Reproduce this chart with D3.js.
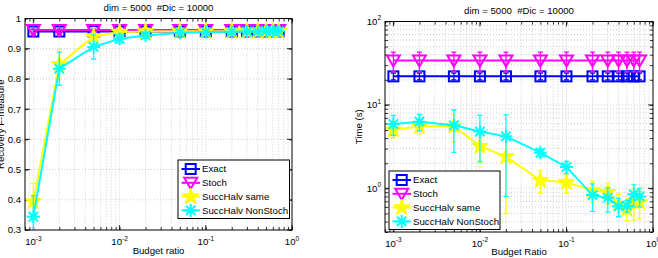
<!DOCTYPE html>
<html><head><meta charset="utf-8">
<script src="https://cdn.jsdelivr.net/npm/d3@7"></script>
<style>
html,body{margin:0;padding:0;background:#fff;}
svg{display:block;font-family:"Liberation Sans",Arial,Helvetica,sans-serif;}
text{white-space:pre;}
</style></head><body>
<svg id="c" width="658" height="258"></svg>
<script>
// ---------- data ----------
const budget = [0.001,0.002,0.005,0.01,0.02,0.05,0.1,0.2,0.3,0.4,0.5,0.6,0.7];
const seriesNames = ["Exact","Stoch","SuccHalv same","SuccHalv NonStoch"];
const seriesColors = ["#0000ff","#ff00ff","#ffff00","#00ffff"];
const seriesMarkers = ["square","triangle","star","asterisk"];

// Recovery F-measure
const fExact    = [0.957,0.957,0.957,0.957,0.957,0.957,0.957,0.957,0.957,0.957,0.957,0.957,0.957];
const fExactErr = [0.008,0.008,0.008,0.008,0.008,0.008,0.008,0.008,0.008,0.008,0.008,0.008,0.008];
const fStoch    = [0.962,0.962,0.962,0.962,0.962,0.962,0.962,0.962,0.962,0.962,0.962,0.962,0.962];
const fStochErr = [0.015,0.015,0.015,0.015,0.015,0.015,0.015,0.015,0.015,0.015,0.015,0.015,0.015];
const fSame     = [0.394,0.848,0.940,0.955,0.957,0.958,0.958,0.958,0.958,0.958,0.958,0.958,0.958];
const fSameErr  = [0.060,0.050,0.030,0.012,0.008,0.006,0.006,0.006,0.006,0.006,0.006,0.006,0.006];
const fNon      = [0.344,0.834,0.906,0.933,0.944,0.953,0.955,0.956,0.957,0.957,0.958,0.958,0.958];
const fNonErr   = [0.070,0.055,0.040,0.015,0.010,0.008,0.006,0.006,0.006,0.006,0.006,0.006,0.006];

// Time (s)
const tExact    = [22,22,22,22,22,22,22,22,22,22,22,22,22];
const tExactErr = [2,2,2,2,2,2,2,2,2,2,2,2,2];
const tStoch    = [34,34,34,34,34,34,34,34,34,34,34,34,34];
const tStochErr = [9,9,9,9,9,9,9,9,9,9,9,9,9];
const tSame     = [5.05,5.5,5.6,3.2,2.4,1.25,1.18,0.95,0.9,0.65,0.56,0.7,0.68];
const tSameErr  = [1.0,1.0,2.0,1.2,1.9,0.37,0.3,0.27,0.25,0.2,0.15,0.28,0.25];
const tNon      = [5.9,6.3,5.7,4.8,4.2,2.68,1.8,0.83,0.77,0.61,0.62,0.85,0.8];
const tNonErr   = [1.6,1.4,3.0,2.7,3.4,0.3,0.3,0.3,0.25,0.15,0.1,0.25,0.2];

const xTicks = [0.001,0.01,0.1,1];
const xTickExp = ["-3","-2","-1","0"];
const fTicks = [0.3,0.4,0.5,0.6,0.7,0.8,0.9,1];
const fTickLabels = ["0.3","0.4","0.5","0.6","0.7","0.8","0.9","1"];
const tTicks = [1,10,100];
const tTickExp = ["0","1","2"];
const titleText = "dim = 5000  #Dic = 10000";

// ---------- drawing ----------
const svg = d3.select("#c");
const FS = 9.6;

function minorLog(domain){
  const out=[];
  for(let e=-4;e<=3;e++) for(let m=1;m<=9;m++){
    const v=m*Math.pow(10,e);
    if(v>=domain[0]*0.9999 && v<=domain[1]*1.0001) out.push(v);
  }
  return out;
}

function drawMarker(g,type,cx,cy,color){
  if(type==="square"){
    g.append("rect").attr("x",cx-5).attr("y",cy-5).attr("width",10).attr("height",10)
     .attr("fill","none").attr("stroke",color).attr("stroke-width",2);
  } else if(type==="triangle"){
    g.append("path").attr("d",`M${cx-6.5},${cy-5}L${cx+6.5},${cy-5}L${cx},${cy+6}Z`)
     .attr("fill","none").attr("stroke",color).attr("stroke-width",2).attr("stroke-linejoin","miter");
  } else if(type==="star"){
    g.append("path").attr("d",d3.symbol(d3.symbolStar,75)()).attr("transform",`translate(${cx},${cy})`)
     .attr("fill",color).attr("stroke",color).attr("stroke-width",1.5).attr("stroke-linejoin","round");
  } else {
    const r=6.5, d=r*0.72;
    g.append("path").attr("d",`M${cx},${cy-r}V${cy+r}M${cx-r},${cy}H${cx+r}M${cx-d},${cy-d}L${cx+d},${cy+d}M${cx-d},${cy+d}L${cx+d},${cy-d}`)
     .attr("fill","none").attr("stroke",color).attr("stroke-width",2);
  }
}

let clipId=0;
function drawPlot(cfg){
  const {x,y,xs,ys,title,xlabel,ylabel,series,yTicks,yLabelFn,yLog,legend,titleY,ylabX} = cfg;
  const [x0,x1]=x.range(), [y0,y1]=y.range(); // y0 bottom, y1 top
  const g = svg.append("g");
  const cid="clip"+(clipId++);
  svg.append("clipPath").attr("id",cid).append("rect").attr("x",x0).attr("y",y1).attr("width",x1-x0).attr("height",y0-y1);

  // grid
  const grid=g.append("g").attr("stroke","#b8b8b8").attr("stroke-width",0.7).attr("stroke-dasharray","1,2");
  const xMinor=minorLog(x.domain());
  xMinor.forEach(v=>{ if(v>x.domain()[0] && v<x.domain()[1]) grid.append("line").attr("x1",x(v)).attr("x2",x(v)).attr("y1",y1).attr("y2",y0);});
  const yGrid = yLog? minorLog(y.domain()) : yTicks;
  yGrid.forEach(v=>{ if(v>y.domain()[0]+1e-9 && v<y.domain()[1]-1e-9) grid.append("line").attr("x1",x0).attr("x2",x1).attr("y1",y(v)).attr("y2",y(v));});

  // ticks via d3 axes (inside, all four sides)
  const axB=d3.axisBottom(x).tickValues(xMinor).tickSizeInner(-3).tickSizeOuter(0).tickFormat("");
  const axT=d3.axisTop(x).tickValues(xMinor).tickSizeInner(-3).tickSizeOuter(0).tickFormat("");
  const yTickVals = yLog? minorLog(y.domain()) : yTicks;
  const axL=d3.axisLeft(y).tickValues(yTickVals).tickSizeInner(-3).tickSizeOuter(0).tickFormat("");
  const axR=d3.axisRight(y).tickValues(yTickVals).tickSizeInner(-3).tickSizeOuter(0).tickFormat("");
  const axes=g.append("g");
  [[axB,`translate(0,${y0})`],[axT,`translate(0,${y1})`],[axL,`translate(${x0},0)`],[axR,`translate(${x1},0)`]].forEach(([a,t])=>{
    const s=axes.append("g").attr("transform",t).call(a);
    s.select(".domain").remove();
    s.selectAll("line").attr("stroke","#000").attr("stroke-width",0.8);
  });
  // major ticks longer
  const maj=axes.append("g").attr("stroke","#000").attr("stroke-width",0.8);
  xs.forEach(v=>{ if(v>=x.domain()[0]&&v<=x.domain()[1]){ maj.append("line").attr("x1",x(v)).attr("x2",x(v)).attr("y1",y0).attr("y2",y0-5); maj.append("line").attr("x1",x(v)).attr("x2",x(v)).attr("y1",y1).attr("y2",y1+5);} });
  (yLog? yTicks: yTicks).forEach(v=>{ maj.append("line").attr("x1",x0).attr("x2",x0+5).attr("y1",y(v)).attr("y2",y(v)); maj.append("line").attr("x1",x1).attr("x2",x1-5).attr("y1",y(v)).attr("y2",y(v)); });

  // x tick labels
  xs.forEach((v,i)=>{
    const t=g.append("text").attr("x",x(v)).attr("y",cfg.xTickBase).attr("text-anchor","middle").attr("font-size",FS);
    t.append("tspan").text("10");
    t.append("tspan").attr("dy",-4.5).attr("font-size",6.5).text(xTickExpArr(v,i));
  });
  // y tick labels
  yTicks.forEach((v,i)=>{
    const t=g.append("text").attr("x",x0-4).attr("y",y(v)).attr("dy","0.35em").attr("text-anchor","end").attr("font-size",FS);
    yLabelFn(t,i);
  });

  // title
  g.append("text").attr("x",(x0+x1)/2).attr("y",titleY).attr("text-anchor","middle").attr("font-size",FS).text(title);
  // axis labels
  g.append("text").attr("x",(x0+x1)/2).attr("y",cfg.xlabY).attr("text-anchor","middle").attr("font-size",FS).text(xlabel);
  g.append("text").attr("transform",`translate(${ylabX},${(y0+y1)/2}) rotate(-90)`).attr("text-anchor","middle").attr("font-size",FS).text(ylabel);

  // series
  const plotG=g.append("g");
  const line=d3.line().x(d=>x(d[0])).y(d=>y(d[1]));
  series.forEach((s,si)=>{
    const color=seriesColors[si];
    const pts=budget.map((b,i)=>[b,s.v[i]]);
    const sg=plotG.append("g");
    const cl=sg.append("g").attr("clip-path",`url(#${cid})`);
    cl.append("path").attr("d",line(pts)).attr("fill","none").attr("stroke",color).attr("stroke-width",2).attr("stroke-linejoin","round");
    budget.forEach((b,i)=>{
      const lo=Math.max(s.v[i]-s.e[i], y.domain()[0]*0.5), hi=s.v[i]+s.e[i];
      const ylo=y(lo), yhi=y(hi), xc=x(b);
      cl.append("path").attr("d",`M${xc},${ylo}V${yhi}M${xc-2.5},${ylo}H${xc+2.5}M${xc-2.5},${yhi}H${xc+2.5}`)
        .attr("stroke",color).attr("stroke-width",1.3).attr("fill","none");
    });
    budget.forEach((b,i)=>drawMarker(sg,seriesMarkers[si],x(b),y(s.v[i]),color));
  });

  // box
  g.append("rect").attr("x",x0).attr("y",y1).attr("width",x1-x0).attr("height",y0-y1).attr("fill","none").attr("stroke","#000").attr("stroke-width",1);

  // legend
  const L=legend;
  const lg=g.append("g");
  lg.append("rect").attr("x",L.x).attr("y",L.y).attr("width",L.w).attr("height",L.h).attr("fill","#fff").attr("stroke","#000").attr("stroke-width",1);
  seriesNames.forEach((n,i)=>{
    const yy=L.y+9+i*13.8;
    const c=seriesColors[i];
    lg.append("line").attr("x1",L.x+3.5).attr("x2",L.x+22).attr("y1",yy).attr("y2",yy).attr("stroke",c).attr("stroke-width",2);
    drawMarker(lg,seriesMarkers[i],L.x+12.7,yy,c);
    lg.append("text").attr("x",L.x+24).attr("y",yy).attr("dy","0.35em").attr("font-size",9.7).text(n);
  });
}
function xTickExpArr(v,i){ return xTickExp[i]; }

// Left plot
drawPlot({
  x: d3.scaleLog().domain([0.0008,1]).range([25,292]),
  y: d3.scaleLinear().domain([0.3,1]).range([230,18.5]),
  xs: xTicks, yTicks: fTicks, yLog:false,
  yLabelFn:(t,i)=>t.text(fTickLabels[i]),
  title:titleText, titleY:11, xlabel:"Budget ratio", ylabel:"Recovery F-measure",
  xTickBase:245, xlabY:253.5, ylabX:3.5,
  series:[{v:fExact,e:fExactErr},{v:fStoch,e:fStochErr},{v:fSame,e:fSameErr},{v:fNon,e:fNonErr}],
  legend:{x:178,y:160,w:111.5,h:58.5}
});
// Right plot
drawPlot({
  x: d3.scaleLog().domain([0.0008,1]).range([385,653]),
  y: d3.scaleLog().domain([0.3,100]).range([232,21.5]),
  xs: xTicks, yTicks: tTicks, yLog:true,
  yLabelFn:(t,i)=>{ t.append("tspan").text("10"); t.append("tspan").attr("dy",-4.5).attr("font-size",6.5).text(tTickExp[i]); },
  title:titleText, titleY:14, xlabel:"Budget Ratio", ylabel:"Time (s)",
  xTickBase:246.5, xlabY:255, ylabX:361.5,
  series:[{v:tExact,e:tExactErr},{v:tStoch,e:tStochErr},{v:tSame,e:tSameErr},{v:tNon,e:tNonErr}],
  legend:{x:389,y:171,w:111,h:58.5}
});
</script>
</body></html>
